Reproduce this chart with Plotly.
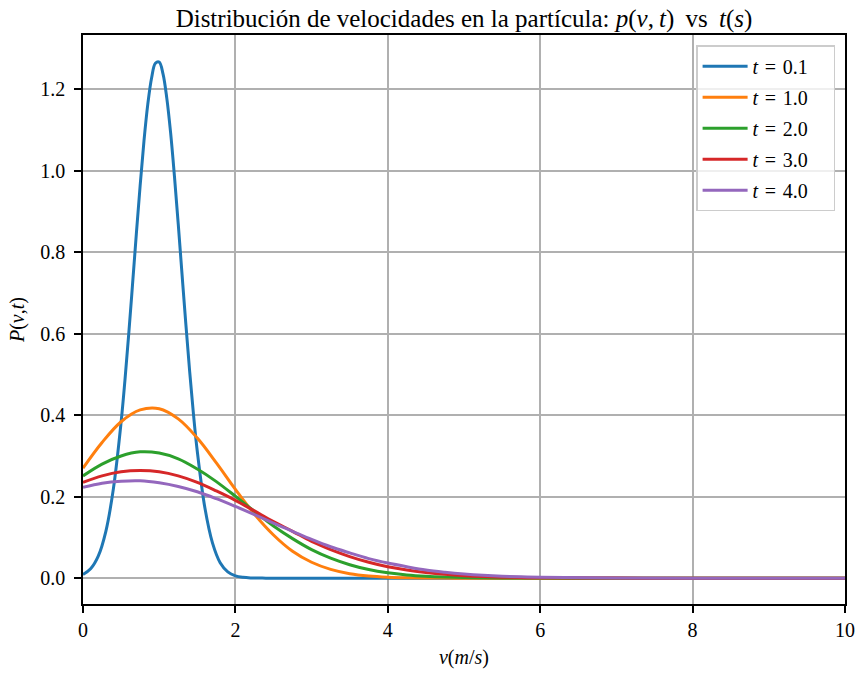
import plotly.graph_objects as go

# ---- data ----
times = ["0.1", "1.0", "2.0", "3.0", "4.0"]
colors = ["#1f77b4", "#ff7f0e", "#2ca02c", "#d62728", "#9467bd"]

# t = 0.1 (narrow peak)
v_narrow = [0.0, 0.1, 0.2, 0.3, 0.4, 0.5, 0.55, 0.6, 0.65, 0.7, 0.75, 0.8, 0.85,
            0.9, 0.95, 1.0, 1.05, 1.1, 1.15, 1.2, 1.25, 1.3, 1.35, 1.4, 1.45,
            1.5, 1.6, 1.7, 1.8, 1.9, 2.0, 2.1, 2.2, 2.4, 3.0, 4.0, 5.0, 6.0,
            7.0, 8.0, 9.0, 10.0]
p_t01 = [0.009, 0.023, 0.054, 0.115, 0.221, 0.383, 0.485, 0.599, 0.721, 0.845,
         0.964, 1.073, 1.163, 1.228, 1.264, 1.267, 1.238, 1.178, 1.093, 0.987,
         0.869, 0.745, 0.623, 0.507, 0.402, 0.311, 0.172, 0.086, 0.038, 0.0155,
         0.0057, 0.0019, 0.0005, 0.0, 0.0, 0.0, 0.0, 0.0, 0.0, 0.0, 0.0, 0.0]

# broad curves
v_grid = [0.0, 0.25, 0.5, 0.75, 1.0, 1.25, 1.5, 1.75, 2.0, 2.25, 2.5, 2.75,
          3.0, 3.25, 3.5, 3.75, 4.0, 4.25, 4.5, 4.75, 5.0, 5.25, 5.5, 5.75,
          6.0, 7.0, 8.0, 9.0, 10.0]
p_t1 = [0.270, 0.333, 0.384, 0.413, 0.416, 0.391, 0.344, 0.283, 0.218, 0.157,
        0.106, 0.066, 0.039, 0.0215, 0.011, 0.0053, 0.0024, 0.0010, 0.0004,
        0.0001, 0.0, 0.0, 0.0, 0.0, 0.0, 0.0, 0.0, 0.0, 0.0]
p_t2 = [0.251, 0.280, 0.300, 0.310, 0.307, 0.293, 0.268, 0.237, 0.201, 0.164,
        0.128, 0.097, 0.070, 0.049, 0.033, 0.021, 0.013, 0.0078, 0.0045,
        0.0025, 0.0013, 0.0007, 0.0003, 0.0001, 0.0001, 0.0, 0.0, 0.0, 0.0]
p_t3 = [0.235, 0.251, 0.261, 0.264, 0.261, 0.251, 0.235, 0.214, 0.191, 0.165,
        0.139, 0.115, 0.090, 0.070, 0.053, 0.039, 0.028, 0.020, 0.014,
        0.0094, 0.0061, 0.0039, 0.0024, 0.0014, 0.0008, 0.0001, 0.0, 0.0, 0.0]
p_t4 = [0.223, 0.233, 0.238, 0.239, 0.234, 0.225, 0.212, 0.195, 0.176, 0.156,
        0.135, 0.115, 0.095, 0.077, 0.062, 0.048, 0.037, 0.028, 0.020,
        0.0145, 0.0102, 0.0070, 0.0047, 0.0031, 0.0020, 0.0003, 0.0, 0.0, 0.0]

y_ticks = [0.0, 0.2, 0.4, 0.6, 0.8, 1.0, 1.2]
x_ticks = [0, 2, 4, 6, 8, 10]

series = [(v_narrow, p_t01), (v_grid, p_t1), (v_grid, p_t2), (v_grid, p_t3), (v_grid, p_t4)]

FONT = "Liberation Serif, Times New Roman, serif"
FS = 20
SP = "\u2004"

fig = go.Figure()
for i, ((xs, ys), t, c) in enumerate(zip(series, times, colors)):
    fig.add_trace(go.Scatter(
        x=xs, y=ys, mode="lines",
        name=f"<i>t</i>{SP}={SP}{t}\u00a0\u00a0\u00a0\u00a0",
        legendgroup=f"g{i}",
        line=dict(color=c, width=3, shape="spline", smoothing=1.0),
    ))

axis_common = dict(
    showgrid=True, gridcolor="#b0b0b0", gridwidth=1.5,
    showline=True, linecolor="black", linewidth=1.5, mirror=True,
    ticks="outside", ticklen=7, tickwidth=1.5, tickcolor="black",
    tickfont=dict(family=FONT, size=FS, color="black"),
    zeroline=False, automargin=False,
)

fig.update_layout(
    width=855, height=673,
    margin=dict(l=83, r=10, t=35, b=69, autoexpand=False),
    paper_bgcolor="white", plot_bgcolor="white",
    font=dict(family=FONT, size=FS, color="black"),
    title=dict(
        text="Distribución de velocidades en la partícula: "
             "<i>p</i>(<i>v</i>,\u2009<i>t</i>)\u2009 vs \u2009<i>t</i>(<i>s</i>)",
        font=dict(family=FONT, size=25, color="black"),
        x=0.5, xref="paper", xanchor="center",
        y=1 - 18 / 673, yref="container", yanchor="middle",
        automargin=False,
    ),
    xaxis=dict(range=[0, 10], tickvals=x_ticks, ticktext=[str(v) for v in x_ticks],
               title=dict(text="<i>v</i>(<i>m</i>/<i>s</i>)", standoff=10,
                          font=dict(family=FONT, size=FS)),
               **axis_common),
    yaxis=dict(range=[-0.0635, 1.3335], tickvals=y_ticks,
               ticktext=[f"{v:.1f}" for v in y_ticks],
               ticklabelstandoff=5,
               title=dict(text="<i>P</i>(<i>v</i>,<i>t</i>)", standoff=10,
                          font=dict(family=FONT, size=FS)),
               **axis_common),
    legend=dict(
        x=0.987, xanchor="right", y=0.982, yanchor="top",
        bgcolor="rgba(255,255,255,0.8)", bordercolor="#cccccc", borderwidth=1.5,
        font=dict(family=FONT, size=FS, color="black"),
        tracegroupgap=2, itemwidth=45,
    ),
    showlegend=True,
)

fig.write_html("out.html", config={"displayModeBar": False},
               post_script="document.body.style.margin='0px';")
